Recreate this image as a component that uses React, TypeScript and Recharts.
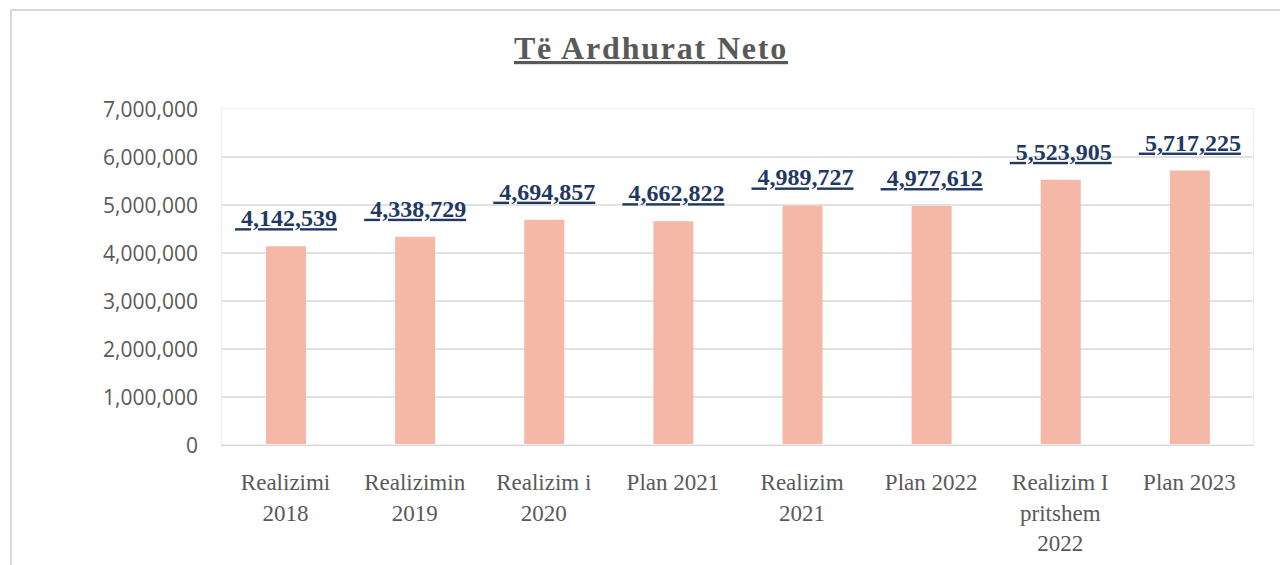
import React from 'react';
import { BarChart, Bar, XAxis, YAxis, CartesianGrid, LabelList } from 'recharts';

const title = 'Të Ardhurat Neto';
const categories = [
  'Realizimi\n2018',
  'Realizimin\n2019',
  'Realizim i\n2020',
  'Plan 2021',
  'Realizim\n2021',
  'Plan 2022',
  'Realizim I\npritshem\n2022',
  'Plan 2023',
];
const values = [4142539, 4338729, 4694857, 4662822, 4989727, 4977612, 5523905, 5717225];
const yTicks = [0, 1000000, 2000000, 3000000, 4000000, 5000000, 6000000, 7000000];

const data = categories.map((c, i) => ({ name: c, value: values[i] }));

const GRAY = '#595959';

const YTick = (props: any) => {
  const { x, y, payload } = props;
  return (
    <text x={x} y={y} dy={7.5} textAnchor="end" fill={GRAY}
      style={{ fontFamily: '"Open Sans", sans-serif', fontSize: 21 }}>
      {Number(payload.value).toLocaleString('en-US')}
    </text>
  );
};

const XTick = (props: any) => {
  const { x, y, payload } = props;
  const lines = String(payload.value).split('\n');
  return (
    <g>
      {lines.map((l: string, i: number) => (
        <text key={i} x={x} y={y + 37 + i * 30.5} textAnchor="middle" fill={GRAY}
          style={{ fontFamily: '"Liberation Serif", serif', fontSize: 23 }}>
          {l}
        </text>
      ))}
    </g>
  );
};

const ValueLabel = (props: any) => {
  const { x, y, width, value } = props;
  return (
    <text x={Number(x) + Number(width) / 2} y={Number(y) - 20} textAnchor="middle" fill="#1F3864"
      style={{ fontFamily: '"Liberation Serif", serif', fontSize: 24, fontWeight: 'bold', textDecoration: 'underline' }}>
      {'\u00A0' + Number(value).toLocaleString('en-US')}
    </text>
  );
};

export default function App() {
  return (
    <div style={{ position: 'fixed', left: 0, top: 0, width: 1280, height: 565, overflow: 'hidden', background: '#fff' }}>
      <div style={{ position: 'absolute', left: 10, top: 9, width: 1300, height: 600, border: '2px solid #D9D9D9' }} />
      <div style={{ position: 'absolute', left: 0, top: 0 }}>
        <BarChart width={1280} height={565} data={data} margin={{ top: 109, right: 26, bottom: 0, left: 0 }} barSize={40}>
          <CartesianGrid vertical={false} stroke="#D9D9D9" strokeWidth={1.5} horizontalValues={yTicks.slice(1, -1)} />
          <YAxis width={221} domain={[0, 7000000]} ticks={yTicks} interval={0} axisLine={false} tickLine={false}
            tick={(p: any) => <YTick {...p} x={198} />} />
          <XAxis dataKey="name" height={120} interval={0} tickLine={false} axisLine={{ stroke: '#D9D9D9', strokeWidth: 2 }}
            tick={<XTick />} />
          <Bar dataKey="value" fill="#F5B7A6" isAnimationActive={false}>
            <LabelList dataKey="value" content={<ValueLabel />} />
          </Bar>
        </BarChart>
      </div>
      <div style={{ position: 'absolute', left: 221, top: 108, width: 1033, height: 337, border: '1px solid #EDEDED', boxSizing: 'border-box', pointerEvents: 'none' }} />
      <svg width={1280} height={100} style={{ position: 'absolute', left: 0, top: 0 }}>
        <text x={651} y={59} textAnchor="middle" fill={GRAY}
          style={{ fontFamily: '"Liberation Serif", serif', fontSize: 32, fontWeight: 'bold', textDecoration: 'underline', letterSpacing: 1.8 }}>
          {title}
        </text>
      </svg>
    </div>
  );
}
